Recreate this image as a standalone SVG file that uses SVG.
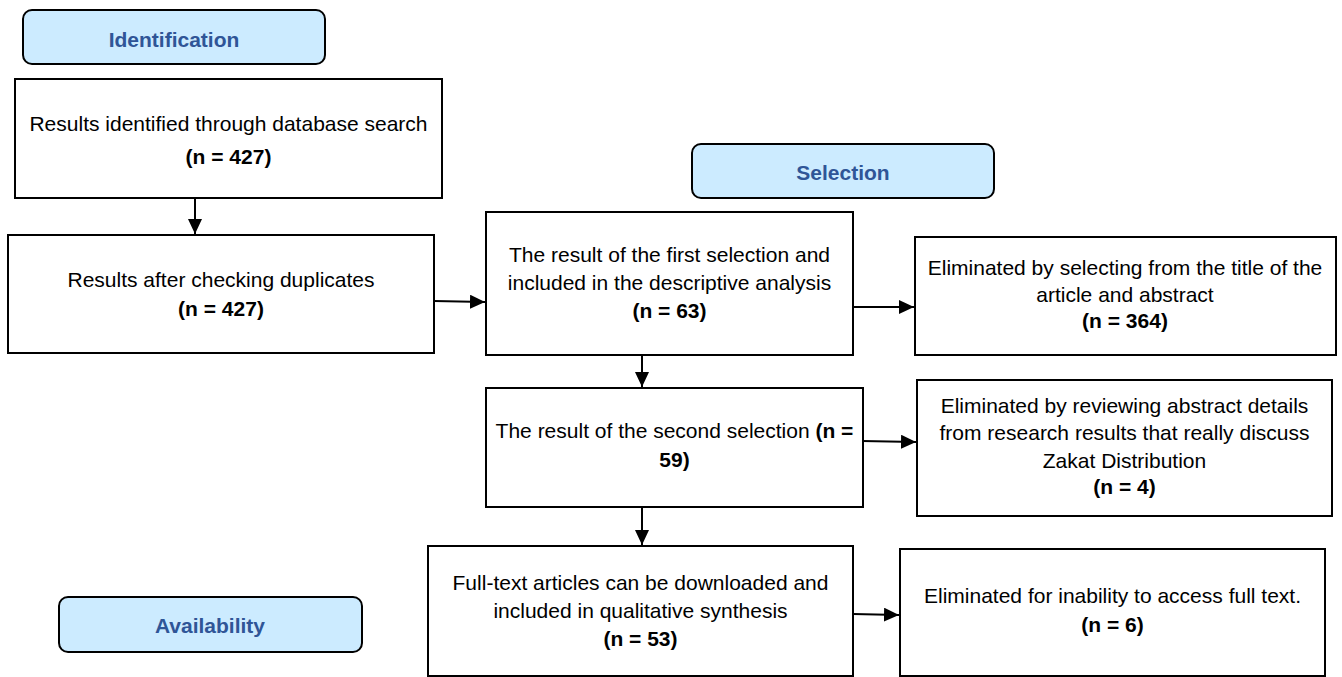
<svg xmlns="http://www.w3.org/2000/svg" width="1342" height="677" viewBox="0 0 1342 677">
<style>
  .box { fill: #ffffff; stroke: #000000; stroke-width: 2; }
  .label { fill: #CCEBFF; stroke: #000000; stroke-width: 2; }
  .t { font-family: "Liberation Sans", Arial, sans-serif; font-size: 21px; fill: #000000; text-anchor: middle; }
  .b { font-weight: bold; }
  .lt { font-family: "Liberation Sans", Arial, sans-serif; font-size: 21px; font-weight: bold; fill: #2F5597; text-anchor: middle; }
  .conn { stroke: #000000; stroke-width: 2; fill: none; marker-end: url(#arr); }
</style>
<defs>
  <marker id="arr" markerUnits="userSpaceOnUse" markerWidth="16" markerHeight="14" refX="15" refY="7" orient="auto">
    <path d="M0,0 L15,7 L0,14 z" fill="#000000"/>
  </marker>
</defs>
<rect width="1342" height="677" fill="#ffffff"/>

<g id="label-identification">
  <rect class="label" x="23" y="10" width="302" height="54" rx="9"/>
  <text class="lt" x="174" y="47">Identification</text>
</g>
<g id="label-selection">
  <rect class="label" x="692" y="144" width="302" height="54" rx="9"/>
  <text class="lt" x="843" y="180">Selection</text>
</g>
<g id="label-availability">
  <rect class="label" x="59" y="597" width="303" height="55" rx="9"/>
  <text class="lt" x="210" y="633">Availability</text>
</g>

<g id="box-identified">
  <rect class="box" x="15" y="79" width="427" height="119"/>
  <text class="t" x="228.5" y="131">Results identified through database search</text>
  <text class="t b" x="228.5" y="164">(n = 427)</text>
</g>
<g id="box-duplicates">
  <rect class="box" x="8" y="235" width="426" height="118"/>
  <text class="t" x="221" y="287">Results after checking duplicates</text>
  <text class="t b" x="221" y="316">(n = 427)</text>
</g>
<g id="box-first-selection">
  <rect class="box" x="486" y="212" width="367" height="143"/>
  <text class="t" x="669.5" y="262">The result of the first selection and</text>
  <text class="t" x="669.5" y="290">included in the descriptive analysis</text>
  <text class="t b" x="669.5" y="318">(n = 63)</text>
</g>
<g id="box-elim-title">
  <rect class="box" x="915" y="237" width="421" height="118"/>
  <text class="t" x="1125" y="275">Eliminated by selecting from the title of the</text>
  <text class="t" x="1125" y="302">article and abstract</text>
  <text class="t b" x="1125" y="328">(n = 364)</text>
</g>
<g id="box-second-selection">
  <rect class="box" x="486" y="388" width="377" height="119"/>
  <text class="t" x="674.5" y="438">The result of the second selection <tspan class="b">(n =</tspan></text>
  <text class="t b" x="674.5" y="467">59)</text>
</g>
<g id="box-elim-abstract">
  <rect class="box" x="917" y="380" width="415" height="136"/>
  <text class="t" x="1124.5" y="413">Eliminated by reviewing abstract details</text>
  <text class="t" x="1124.5" y="440">from research results that really discuss</text>
  <text class="t" x="1124.5" y="468">Zakat Distribution</text>
  <text class="t b" x="1124.5" y="494">(n = 4)</text>
</g>
<g id="box-fulltext">
  <rect class="box" x="428" y="546" width="425" height="130"/>
  <text class="t" x="640.5" y="590">Full-text articles can be downloaded and</text>
  <text class="t" x="640.5" y="618">included in qualitative synthesis</text>
  <text class="t b" x="640.5" y="646">(n = 53)</text>
</g>
<g id="box-elim-access">
  <rect class="box" x="900" y="549" width="425" height="127"/>
  <text class="t" x="1112.5" y="603">Eliminated for inability to access full text.</text>
  <text class="t b" x="1112.5" y="632">(n = 6)</text>
</g>

<g id="connectors">
  <line class="conn" x1="195" y1="198" x2="195" y2="234"/>
  <line class="conn" x1="434" y1="301" x2="485" y2="302"/>
  <line class="conn" x1="852" y1="307" x2="914" y2="307"/>
  <line class="conn" x1="642" y1="355" x2="642" y2="387"/>
  <line class="conn" x1="862" y1="441" x2="916" y2="442"/>
  <line class="conn" x1="642" y1="507" x2="642" y2="545"/>
  <line class="conn" x1="853" y1="614" x2="899" y2="615"/>
</g>
</svg>
